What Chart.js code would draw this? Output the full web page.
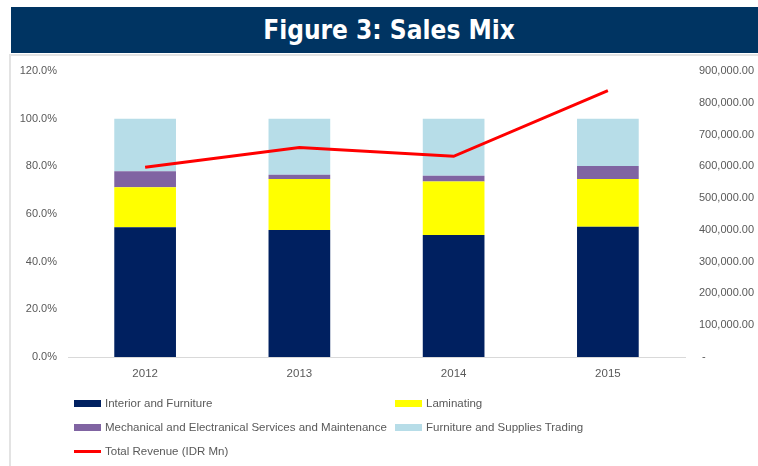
<!DOCTYPE html>
<html>
<head>
<meta charset="utf-8">
<script src="https://cdn.jsdelivr.net/npm/chart.js@4/dist/chart.umd.min.js"></script>
<style>
  html, body { margin: 0; padding: 0; background: #ffffff; }
  #wrap { position: relative; width: 758px; height: 466px; overflow: hidden; }
  #banner { position: absolute; left: 11px; top: 7px; width: 756px; height: 46px; background: #003462;
            color: #ffffff; font-family: "DejaVu Sans"; font-weight: bold; font-size: 26px; font-stretch: condensed;
            line-height: 46px; text-align: center; }
  #box { position: absolute; left: 9px; top: 54px; width: 800px; height: 500px; border: 2px solid #e3e3e3; }
  #cv { position: absolute; left: 0; top: 0; }
  #legend { position: absolute; left: 0; top: 0; width: 758px; height: 466px; pointer-events: none;
            font-family: "Liberation Sans"; font-size: 11.5px; color: #595959; }
  .item { position: absolute; white-space: nowrap; height: 14px; line-height: 14px; }
  .sw { position: absolute; left: 0; top: 4px; width: 27px; height: 7px; }
  .ln { position: absolute; left: 0; top: 6px; width: 27px; height: 3px; }
  .tx { position: absolute; left: 31px; top: 0; }
</style>
</head>
<body>
<div id="wrap">
  <div id="box"></div>
  <div id="banner">Figure 3: Sales Mix</div>
  <canvas id="cv" width="758" height="466"></canvas>
  <div id="legend"></div>
</div>
<script>
const years = ['2012', '2013', '2014', '2015'];
const interiorFurniture = [54.4, 53.3, 51.2, 54.6];
const laminating = [16.8, 21.4, 22.4, 20.1];
const mechElectrical = [6.7, 1.8, 2.5, 5.4];
const furnitureTrading = [22.1, 23.5, 23.9, 19.9];
const totalRevenue = [597000, 659000, 631500, 838000];
const leftTicks = [0, 20, 40, 60, 80, 100, 120];
const rightTicks = [0, 100000, 200000, 300000, 400000, 500000, 600000, 700000, 800000, 900000];

const seriesNames = ['Interior and Furniture', 'Laminating', 'Mechanical and Electranical Services and Maintenance', 'Furniture and Supplies Trading', 'Total Revenue (IDR Mn)'];
const seriesColors = ['#002060', '#FFFF00', '#8064A2', '#B7DDE8', '#FF0000'];

Chart.defaults.font.family = 'Liberation Sans';
Chart.defaults.font.size = 11;
Chart.defaults.color = '#595959';

const barCommon = { type: 'bar', yAxisID: 'y', stack: 's', barPercentage: 0.4, categoryPercentage: 1.0, borderWidth: 0, order: 1 };

const chart = new Chart(document.getElementById('cv'), {
  data: {
    labels: years,
    datasets: [
      Object.assign({ label: seriesNames[0], data: interiorFurniture, backgroundColor: seriesColors[0] }, barCommon),
      Object.assign({ label: seriesNames[1], data: laminating, backgroundColor: seriesColors[1] }, barCommon),
      Object.assign({ label: seriesNames[2], data: mechElectrical, backgroundColor: seriesColors[2] }, barCommon),
      Object.assign({ label: seriesNames[3], data: furnitureTrading, backgroundColor: seriesColors[3] }, barCommon),
      { type: 'line', label: seriesNames[4], data: totalRevenue, yAxisID: 'y1', borderColor: seriesColors[4],
        backgroundColor: seriesColors[4], borderWidth: 3, pointRadius: 0, tension: 0, order: 0 }
    ]
  },
  options: {
    responsive: false,
    animation: false,
    layout: { padding: { top: 71, left: 0, right: 0, bottom: 0 } },
    plugins: { legend: { display: false }, tooltip: { enabled: false }, title: { display: false } },
    scales: {
      x: {
        stacked: true,
        grid: { display: false, drawTicks: false },
        border: { display: true, color: '#d9d9d9', width: 1 },
        ticks: { padding: 10, font: { size: 11.5 } },
        afterFit: s => { s.height = 109; }
      },
      y: {
        position: 'left', stacked: true, min: 0, max: 120,
        afterBuildTicks: s => { s.ticks = leftTicks.map(v => ({ value: v })); },
        grid: { display: false, drawTicks: false },
        border: { display: false },
        ticks: { padding: 11, callback: v => v.toFixed(1) + '%' },
        afterFit: s => { s.width = 68; }
      },
      y1: {
        position: 'right', stacked: false, min: 0, max: 900000,
        afterBuildTicks: s => { s.ticks = rightTicks.map(v => ({ value: v })); },
        grid: { display: false, drawTicks: false },
        border: { display: false },
        ticks: { padding: 14, callback: v => v === 0 ? ' -' : v.toLocaleString('en-US', { minimumFractionDigits: 2, maximumFractionDigits: 2 }) },
        afterFit: s => { s.width = 73; }
      }
    }
  }
});

// legend built from series names/colors
const legendPos = [[74, 396], [395, 396], [74, 420], [395, 420], [74, 444]];
const lg = document.getElementById('legend');
seriesNames.forEach((name, i) => {
  const d = document.createElement('div');
  d.className = 'item';
  d.style.left = legendPos[i][0] + 'px';
  d.style.top = legendPos[i][1] + 'px';
  const sw = document.createElement('div');
  sw.className = i === 4 ? 'ln' : 'sw';
  sw.style.background = seriesColors[i];
  const tx = document.createElement('div');
  tx.className = 'tx';
  tx.textContent = name;
  d.appendChild(sw); d.appendChild(tx);
  lg.appendChild(d);
});
</script>
</body>
</html>
